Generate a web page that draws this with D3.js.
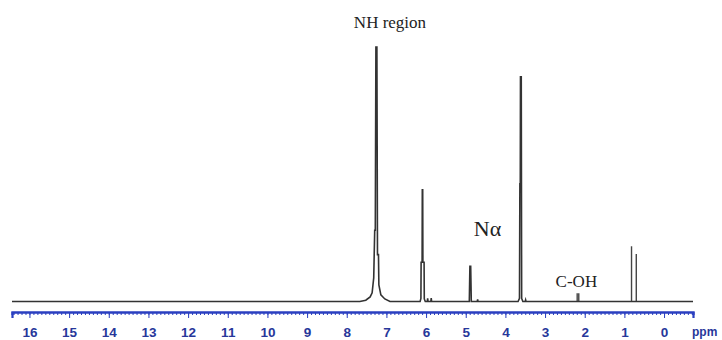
<!DOCTYPE html>
<html>
<head>
<meta charset="utf-8">
<script src="https://cdn.jsdelivr.net/npm/d3@7"></script>
<style>
  body { margin: 0; background: #fff; }
  svg { display: block; }
</style>
</head>
<body>
<div id="chart"></div>
<script>
var w = 722, h = 340;

// spectrum trace: [ppm, intensity] (100 = tallest peak)
var spectrum = [
  [16.44, 0], [7.67, 0], [7.52, 0.5], [7.41, 1.8], [7.36, 3.4], [7.32, 9.3],
  [7.295, 28], [7.28, 28], [7.265, 100], [7.24, 100], [7.225, 18.4],
  [7.2, 18.4], [7.19, 6.5], [7.14, 2.6], [7.04, 1], [6.91, 0],
  [6.15, 0], [6.13, 1.2], [6.125, 15.4], [6.10, 15.4], [6.095, 43.9],
  [6.085, 43.9], [6.08, 15.4], [6.05, 15.4], [6.045, 1], [6.02, 0],
  [5.97, 0], [5.96, 1.2], [5.95, 0], [5.88, 0], [5.87, 1.3], [5.86, 0],
  [4.91, 0], [4.895, 13.8], [4.875, 13.8], [4.86, 0],
  [4.71, 0], [4.70, 0.8], [4.69, 0],
  [3.68, 0], [3.645, 1.2], [3.635, 46.2], [3.625, 46.2], [3.62, 88.3],
  [3.60, 88.3], [3.59, 1.2], [3.56, 0],
  [3.50, 0], [3.49, 0.6], [3.48, 0],
  [-0.73, 0]
];

// small gray doublets drawn as sticks
var sticks = [
  { ppm: 2.19, value: 3.2 }, { ppm: 2.15, value: 3.2 },
  { ppm: 0.82, value: 21.7 }, { ppm: 0.70, value: 18.7 }
];

var majorTicks = d3.range(0, 17);
var minorTicks = d3.range(-7, 165).map(function(d) { return d / 10; });

var annotations = [
  { text: 'NH region', ppm: 6.91, value: 107.5, size: 17 },
  { text: 'N\u03b1', ppm: 4.45, value: 25.6, size: 22 },
  { text: 'C-OH', ppm: 2.21, value: 5.8, size: 17 }
];

var x = d3.scaleLinear().domain([16.44, -0.73]).range([12, 693]);
var y = d3.scaleLinear().domain([0, 100]).range([301.5, 47]);

var svg = d3.select('#chart').append('svg')
    .attr('width', w)
    .attr('height', h);

var line = d3.line()
    .x(function(d) { return x(d[0]); })
    .y(function(d) { return y(d[1]); });

svg.selectAll('line.stick')
    .data(sticks)
    .enter()
    .append('line')
    .attr('class', 'stick')
    .attr('x1', function(d) { return x(d.ppm); })
    .attr('x2', function(d) { return x(d.ppm); })
    .attr('y1', y(0))
    .attr('y2', function(d) { return y(d.value); })
    .attr('stroke', '#444')
    .attr('stroke-width', 1.4);

svg.append('path')
    .datum(spectrum)
    .attr('d', line)
    .attr('fill', 'none')
    .attr('stroke', '#333')
    .attr('stroke-width', 1.6)
    .attr('stroke-linejoin', 'miter');

svg.selectAll('text.note')
    .data(annotations)
    .enter()
    .append('text')
    .attr('class', 'note')
    .attr('x', function(d) { return x(d.ppm); })
    .attr('y', function(d) { return y(d.value); })
    .attr('text-anchor', 'middle')
    .attr('font-family', '"Liberation Serif", "Times New Roman", serif')
    .attr('font-size', function(d) { return d.size; })
    .attr('fill', '#222')
    .text(function(d) { return d.text; });

var axisColor = '#2a3fc0';
var axisY = 312;

var minorAxis = svg.append('g')
    .attr('transform', 'translate(0,' + axisY + ')')
    .call(d3.axisBottom(x).tickValues(minorTicks).tickSize(3).tickFormat(''));

var majorAxis = svg.append('g')
    .attr('transform', 'translate(0,' + axisY + ')')
    .call(d3.axisBottom(x).tickValues(majorTicks).tickSize(6).tickPadding(9)
        .tickFormat(d3.format('d')));

[minorAxis, majorAxis].forEach(function(g) {
    g.select('.domain').attr('stroke', axisColor).attr('stroke-width', 2.2);
    g.selectAll('.tick line').attr('stroke', axisColor).attr('stroke-width', 1);
});

majorAxis.selectAll('text')
    .attr('fill', '#27379a')
    .attr('font-family', '"Liberation Sans", Arial, sans-serif')
    .attr('font-weight', 'bold')
    .attr('font-size', 13.5);

svg.append('text')
    .attr('x', 692)
    .attr('y', 336)
    .attr('fill', '#27379a')
    .attr('font-family', '"Liberation Sans", Arial, sans-serif')
    .attr('font-weight', 'bold')
    .attr('font-size', 12)
    .text('ppm');
</script>
</body>
</html>
